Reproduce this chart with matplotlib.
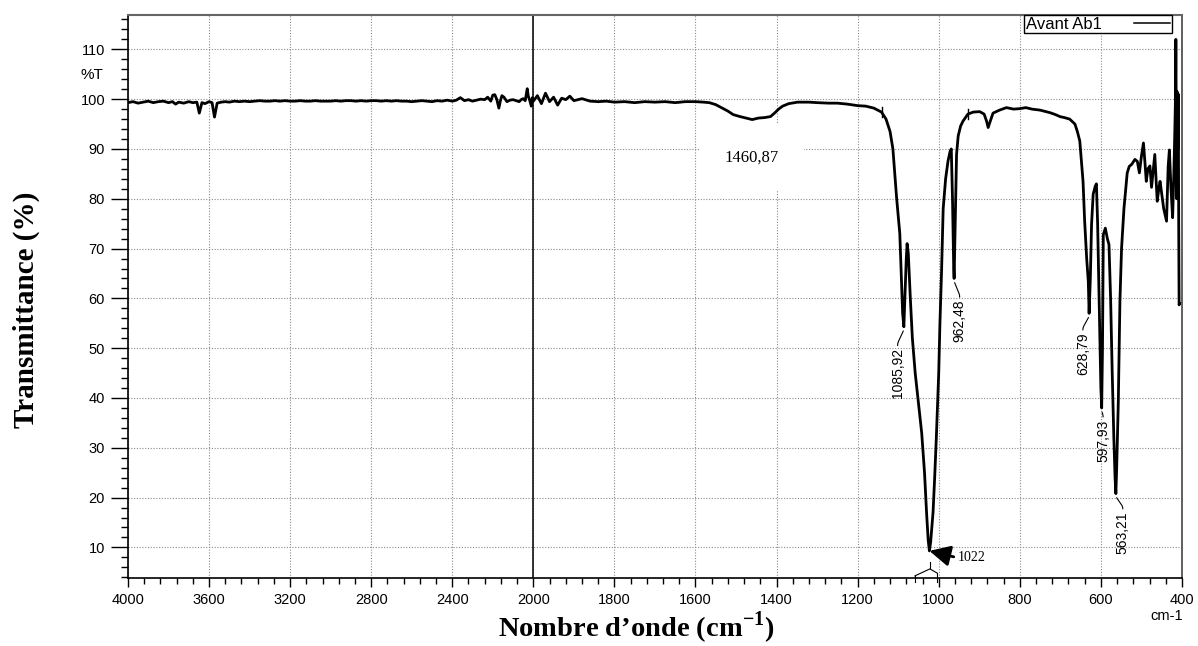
import numpy as np
import matplotlib
matplotlib.use('Agg')
import matplotlib.pyplot as plt
from matplotlib.lines import Line2D
from matplotlib.ticker import FixedLocator
from matplotlib.transforms import IdentityTransform

plt.rcParams['font.family'] = ['Liberation Sans', 'DejaVu Sans']
plt.rcParams['mathtext.fontset'] = 'custom'
plt.rcParams['mathtext.rm'] = 'Liberation Serif:bold'
plt.rcParams['mathtext.bf'] = 'Liberation Serif:bold'

# spectrum: wavenumber (cm-1) and transmittance (%)
wn_high = [4000, 3975, 3950, 3925, 3900, 3875, 3850, 3825, 3800, 3780, 3765, 3750,
           3725, 3700, 3680, 3660, 3648, 3635, 3620, 3600, 3585, 3573, 3560, 3540,
           3520, 3500, 3475, 3450, 3425, 3400, 3375, 3350, 3325, 3300, 3275, 3250,
           3225, 3200, 3175, 3150, 3125, 3100, 3075, 3050, 3025, 3000, 2975, 2950,
           2925, 2900, 2875, 2850, 2825, 2800, 2775, 2750, 2725, 2700, 2675, 2650,
           2625, 2600, 2575, 2550, 2525, 2500, 2475, 2450, 2425, 2400, 2380, 2360,
           2340, 2320, 2300, 2280, 2260, 2240, 2225, 2210, 2200, 2190, 2180, 2170,
           2163, 2155, 2145, 2130, 2115, 2100, 2085, 2070, 2060, 2050, 2040, 2030,
           2025, 2018, 2010, 2005]
t_high = [99.3, 99.5, 99.2, 99.4, 99.6, 99.3, 99.5, 99.6, 99.3, 99.5, 99.0, 99.4,
          99.2, 99.5, 99.3, 99.4, 97.2, 99.3, 99.1, 99.5, 99.3, 96.4, 99.2, 99.4,
          99.5, 99.4, 99.6, 99.5, 99.6, 99.5, 99.6, 99.7, 99.6, 99.6, 99.7, 99.6,
          99.7, 99.6, 99.6, 99.7, 99.6, 99.6, 99.7, 99.6, 99.6, 99.6, 99.7, 99.6,
          99.7, 99.7, 99.6, 99.7, 99.6, 99.7, 99.7, 99.6, 99.7, 99.6, 99.7, 99.6,
          99.6, 99.5, 99.6, 99.7, 99.6, 99.5, 99.7, 99.6, 99.8, 99.6, 99.8, 100.3,
          99.7, 99.9, 99.6, 99.8, 100.0, 99.9, 100.4, 99.6, 100.8, 100.9, 99.9, 98.2,
          99.6, 100.7, 100.4, 99.5, 99.8, 99.9, 99.7, 99.5, 99.9, 100.1, 99.7, 102.1,
          100.6, 99.8, 98.6, 100.3]

wn_mid = [2000, 1990, 1980, 1970, 1960, 1950, 1940, 1930, 1920, 1910, 1900, 1880,
          1860, 1840, 1820, 1800, 1775, 1750, 1725, 1700, 1675, 1650, 1625, 1600,
          1580, 1566, 1550, 1536, 1520, 1507, 1490, 1475, 1460, 1445, 1430, 1415,
          1405, 1395, 1385, 1370, 1348, 1320, 1300, 1272, 1250, 1225, 1200, 1180,
          1160, 1141]
t_mid = [99.6, 100.7, 99.1, 101.2, 99.5, 100.4, 98.8, 100.2, 99.9, 100.6, 99.7, 100.1,
         99.6, 99.5, 99.6, 99.4, 99.5, 99.3, 99.5, 99.4, 99.5, 99.3, 99.5, 99.5,
         99.4, 99.3, 98.9, 98.3, 97.6, 96.9, 96.5, 96.2, 95.9, 96.2, 96.3, 96.5,
         97.2, 98.0, 98.6, 99.1, 99.4, 99.4, 99.3, 99.2, 99.2, 99.0, 98.7, 98.6,
         98.2, 97.4]

wn_fp = [1130, 1120, 1113, 1104, 1096, 1092, 1089, 1086, 1083, 1080, 1078, 1075,
         1070, 1065, 1058, 1050, 1042, 1035, 1030, 1026, 1023, 1020, 1014, 1010,
         1006, 1000, 997, 993, 989, 983, 977, 972, 969, 966, 963, 962, 960, 956,
         952, 946, 940, 928, 915, 899, 888, 882, 878, 874, 866, 850, 833, 815,
         800, 785, 770, 750, 726, 712, 701, 690, 677, 664, 658, 652, 648, 644,
         640, 635, 631, 629, 626, 623, 619, 614, 611, 608, 604, 600, 598, 596,
         594, 589, 584, 580, 576, 572, 568, 565, 563, 561, 557, 553, 549, 543,
         535, 530, 524, 516, 510, 505, 500, 495, 491, 488, 484, 479, 475, 471,
         467, 464, 461, 457, 454, 450, 445, 438, 434, 431, 427, 423, 420, 418,
         416, 415, 414, 413, 412, 410, 409, 408, 407, 406]
t_fp = [96.0, 93.5, 90.0, 80.3, 73.0, 64.0, 57.0, 54.3, 61.0, 68.0, 71.0, 69.0,
        60.0, 52.0, 45.0, 39.0, 33.0, 25.0, 17.0, 11.5, 9.3, 11.0, 17.0, 24.0,
        31.8, 45.0, 55.0, 65.4, 78.0, 84.0, 87.6, 89.5, 90.0, 80.0, 66.0, 64.0, 72.0, 88.9,
        92.6, 94.6, 95.6, 97.0, 97.4, 97.5, 97.0, 95.6, 94.3, 95.3, 97.2, 97.8, 98.3, 98.0,
        98.1, 98.3, 98.0, 97.8, 97.3, 96.9, 96.5, 96.3, 96.0, 95.0, 93.5, 91.6, 87.5, 83.5,
        75.5, 68.0, 63.4, 57.0, 64.0, 74.8, 80.9, 82.5, 83.0, 75.0, 58.0, 42.0, 38.0, 50.0,
        72.8, 74.1, 72.0, 70.8, 60.0, 45.0, 32.0, 24.0, 20.8, 26.0, 39.2, 59.4, 70.0, 78.1,
        85.2, 86.5, 86.9, 87.9, 87.5, 85.2, 88.5, 91.2, 87.0, 83.5, 86.0, 86.6, 82.3, 85.5,
        88.9, 84.0, 79.5, 82.0, 83.5, 81.0, 78.0, 75.5, 86.5, 89.8, 82.0, 76.2, 85.0, 92.0,
        100.0, 112.0, 95.0, 80.0, 101.5, 90.0, 101.0, 75.0, 58.7, 59.0]

# labelled peaks
peak_labels = ['1085,92', '962,48', '628,79', '597,93', '563,21']
peak_wn = [1086, 962, 629, 598, 563]
peak_t = [54.3, 64.0, 57.0, 38.0, 20.8]

band_label = '1460,87'
band_wn, band_t = 1462, 88.3
main_label = '1022'
main_wn, main_t = 1023, 9.3

# small integration marks on the curve
marker_wn = [1141, 928]
marker_t = [97.4, 97.0]

xticks_major = [4000, 3600, 3200, 2800, 2400, 2000, 1800, 1600, 1400,
                1200, 1000, 800, 600, 400]
yticks_major = [10, 20, 30, 40, 50, 60, 70, 80, 90, 100, 110]


# the x axis is compressed by 2 above 2000 cm-1
def fwd(x):
    x = np.asarray(x, dtype=float)
    return np.where(x > 2000, 2000 + (x - 2000) / 2, x)


def inv(x):
    x = np.asarray(x, dtype=float)
    return np.where(x > 2000, 2000 + (x - 2000) * 2, x)


wn = np.array(wn_high + wn_mid + wn_fp)
t = np.array(t_high + t_mid + t_fp)

fig = plt.figure(figsize=(11.98, 6.46), dpi=100)
ax = fig.add_axes([0.1068, 0.1048, 0.8798, 0.8720])
ax.set_xscale('function', functions=(fwd, inv))
ax.set_xlim(4000, 400)
ax.set_ylim(3.8, 116.9)

ax.set_axisbelow(True)
ax.grid(True, which='major', color='#8c8c8c', linestyle=(0, (1, 1.5)), linewidth=0.8)
ax.axvline(2000, color='black', lw=1.1, zorder=2)

ax.plot(wn, t, color='black', lw=2.0, zorder=3, solid_joinstyle='round')

for w, tt in zip(marker_wn, marker_t):
    ax.plot([w, w], [tt - 1.0, tt + 1.0], color='black', lw=1.0, zorder=3)

# ticks
ax.set_xticks(xticks_major)
ax.set_xticklabels([str(v) for v in xticks_major])
ax.xaxis.set_minor_locator(FixedLocator(list(np.arange(4000, 2000, -80)) + list(np.arange(2000, 399, -40))))
ax.set_yticks(yticks_major)
ax.yaxis.set_minor_locator(FixedLocator(np.arange(4, 117, 2)))
ax.tick_params(axis='y', which='major', direction='out', length=12, width=1, pad=4.5,
               labelsize=10.5, right=False)
ax.tick_params(axis='y', which='minor', direction='out', length=5, width=1, right=False)
ax.tick_params(axis='x', which='major', direction='out', length=6.5, width=1, pad=4,
               labelsize=10.5, top=False)
ax.tick_params(axis='x', which='minor', direction='out', length=4, width=1, top=False)

for s in ['left', 'bottom']:
    ax.spines[s].set_linewidth(1.2)
ax.spines['top'].set_color('#666666')
ax.spines['top'].set_linewidth(1.5)
ax.spines['right'].set_color('#444444')
ax.spines['right'].set_linewidth(1.2)

# legend
leg = ax.legend(handles=[Line2D([], [], color='black', lw=1.1)], labels=['Avant Ab1'],
                loc='upper right', bbox_to_anchor=(0.9905, 1.0), borderaxespad=0,
                markerfirst=False, fancybox=False, edgecolor='black', framealpha=1,
                fontsize=12, handlelength=2.2, handletextpad=1.9, borderpad=0.1)
leg.get_frame().set_linewidth(1.0)

# annotations
ax.text(band_wn, band_t, band_label, family='Liberation Serif', fontsize=12,
        ha='center', va='center', zorder=2.5,
        bbox=dict(boxstyle='square,pad=1.5', fc='white', ec='none'))

label_offsets = [(-4.5, -15.5), (4, -15.5), (-4.5, -14), (1, -8.5), (5, -13)]
for lab, w, tt, off in zip(peak_labels, peak_wn, peak_t, label_offsets):
    ax.annotate(lab, xy=(w, tt), xytext=off, textcoords='offset points',
                rotation=90, ha='center', va='top', fontsize=10, zorder=4,
                arrowprops=dict(arrowstyle='-', lw=0.8, color='black', relpos=(0.5, 1.0),
                                shrinkA=0, shrinkB=3,
                                connectionstyle='arc,angleA=90,armA=5,angleB=-90,armB=3,rad=2'))

ax.annotate(main_label, xy=(main_wn, main_t), xytext=(20.5, -5), textcoords='offset points',
            family='Liberation Serif', fontsize=10, ha='left', va='center', zorder=4,
            arrowprops=dict(arrowstyle='-|>,head_length=0.9,head_width=0.45', mutation_scale=14,
                            lw=2, color='black', relpos=(0, 0.5), shrinkA=1, shrinkB=0))

# little bracket below the main band (pixel offsets from the minimum)
px, py = ax.transData.transform((main_wn, main_t))
for seg in [[(0.5, 11), (0.5, 17)], [(-14.5, 25), (0.5, 18), (7.5, 22)],
            [(-14.5, 25), (-14.5, 31)], [(7.5, 22), (7.5, 31)]]:
    fig.add_artist(Line2D([px + dx for dx, dy in seg], [py - dy for dx, dy in seg],
                          transform=IdentityTransform(), color='black', lw=0.8))

fig.text(103 / 1198, 1 - 75 / 646, '%T', ha='right', va='center', fontsize=11)
fig.text(1183 / 1198, 1 - 616 / 646, 'cm-1', ha='right', va='center', fontsize=10.5)
fig.text(26 / 1198, 1 - 310 / 646, 'Transmittance (%)', rotation=90, ha='center', va='center',
         fontsize=21, family='Liberation Serif', weight='bold')
fig.text(636 / 1198, 9 / 646, 'Nombre d\u2019onde (cm$^{\\mathbf{-1}}$)', ha='center',
         va='baseline', fontsize=20.5, family='Liberation Serif', weight='bold')

fig.savefig('out.png', dpi=100)
